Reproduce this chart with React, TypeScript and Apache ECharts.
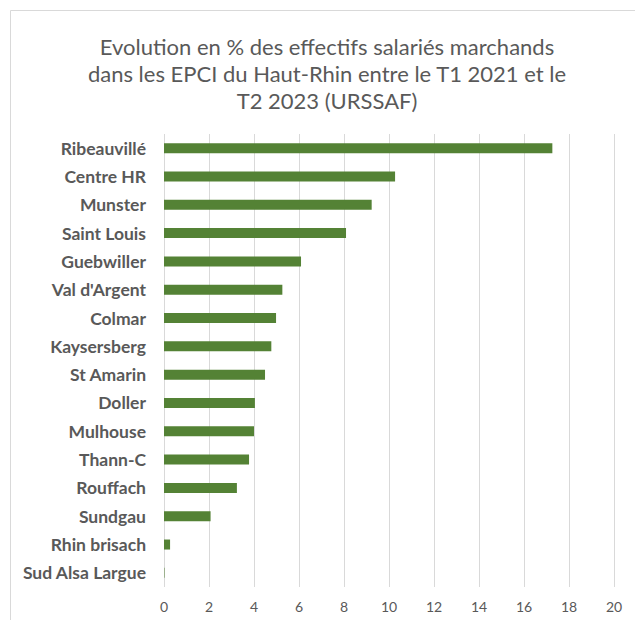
import React, { useEffect, useRef } from "react";
import * as echarts from "echarts";

const categories = [
  "Ribeauvillé",
  "Centre HR",
  "Munster",
  "Saint Louis",
  "Guebwiller",
  "Val d'Argent",
  "Colmar",
  "Kaysersberg",
  "St Amarin",
  "Doller",
  "Mulhouse",
  "Thann-C",
  "Rouffach",
  "Sundgau",
  "Rhin brisach",
  "Sud Alsa Largue",
];
const values = [17.26, 10.27, 9.23, 8.09, 6.09, 5.26, 4.98, 4.77, 4.49, 4.04, 4.0, 3.78, 3.24, 2.07, 0.27, 0.02];
const titleText = "Evolution en % des effectifs salariés marchands\ndans les EPCI du Haut-Rhin entre le T1 2021 et le\nT2 2023 (URSSAF)";

export default function App() {
  const ref = useRef<HTMLDivElement>(null);
  useEffect(() => {
    document.body.style.margin = "0";
    if (!ref.current) return;
    const chart = echarts.init(ref.current, null, { renderer: "svg" });
    chart.setOption({
      animation: false,
      backgroundColor: "#ffffff",
      textStyle: { fontFamily: "Lato" },
      title: {
        text: titleText,
        left: 322,
        textAlign: "center",
        top: 28,
        textStyle: {
          fontFamily: "Lato",
          fontSize: 22,
          fontWeight: "normal",
          color: "#595959",
          lineHeight: 27,
          align: "center",
        },
      },
      graphic: [
        {
          type: "rect",
          shape: { x: 10.5, y: 10.5, width: 700, height: 700 },
          style: { fill: "none", stroke: "#d9d9d9", lineWidth: 1 },
          silent: true,
        },
      ],
      grid: { left: 164, right: 21, top: 134, bottom: 33, containLabel: false },
      xAxis: {
        type: "value",
        min: 0,
        max: 20,
        interval: 2,
        axisLine: { show: false },
        axisTick: { show: false },
        splitLine: { show: true, lineStyle: { color: "#d9d9d9", width: 1 } },
        axisLabel: { color: "#595959", fontSize: 14, fontFamily: "Lato", margin: 12 },
      },
      yAxis: {
        type: "category",
        data: categories,
        inverse: true,
        axisLine: { show: false },
        axisTick: { show: false },
        axisLabel: {
          color: "#595959",
          fontSize: 17.5,
          fontWeight: "bold",
          fontFamily: "Lato",
          margin: 18,
        },
      },
      series: [
        {
          type: "bar",
          data: values,
          barWidth: 10,
          itemStyle: { color: "#548235" },
        },
      ],
    });
    return () => chart.dispose();
  }, []);
  return <div ref={ref} style={{ width: 635, height: 620 }} />;
}
